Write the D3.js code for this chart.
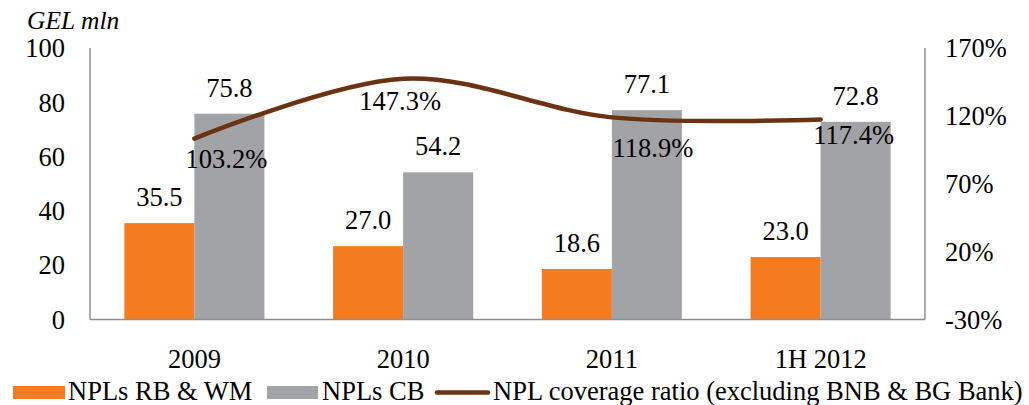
<!DOCTYPE html>
<html><head><meta charset="utf-8">
<script src="https://cdn.jsdelivr.net/npm/d3@7"></script>
<style>body{margin:0;background:#fff}svg{display:block}text{font-family:"Liberation Serif","Times New Roman",serif;fill:#000}</style>
</head><body><svg id="c" width="1029" height="405"></svg>
<script>
const categories = ["2009", "2010", "2011", "1H 2012"];
const nplsRbWm = [35.5, 27.0, 18.6, 23.0];
const nplsCb = [75.8, 54.2, 77.1, 72.8];
const coverage = [103.2, 147.3, 118.9, 117.4];
const leftTicks = [0, 20, 40, 60, 80, 100];
const rightTicks = [-30, 20, 70, 120, 170];
const seriesNames = ["NPLs RB & WM", "NPLs CB", "NPL coverage ratio (excluding BNB & BG Bank)"];

const svg = d3.select("#c");
const L = 90, R = 925, T = 48, B = 319.5;
const FS = 26.5;
const orange = "#F47B20", gray = "#A2A3A7", brown = "#6B3311", axisCol = "#8E8E8E";

const x0 = d3.scaleBand().domain(categories).range([L, R]).paddingInner(0.329).paddingOuter(0.1645);
const x1 = d3.scaleBand().domain([0, 1]).range([0, x0.bandwidth()]);
const yL = d3.scaleLinear().domain([0, 100]).range([B, T]);
const yR = d3.scaleLinear().domain([-30, 170]).range([B, T]);
const cx = c => x0(c) + x0.bandwidth() / 2;

// bars
const series = [nplsRbWm, nplsCb];
const colors = [orange, gray];
series.forEach((vals, si) => {
  svg.append("g").selectAll("rect").data(vals).join("rect")
    .attr("x", (d, i) => x0(categories[i]) + x1(si))
    .attr("width", x1.bandwidth())
    .attr("y", d => yL(d))
    .attr("height", d => yL(0) - yL(d))
    .attr("fill", colors[si]);
  svg.append("g").selectAll("text").data(vals).join("text")
    .attr("x", (d, i) => x0(categories[i]) + x1(si) + x1.bandwidth() / 2)
    .attr("y", d => yL(d) - 17)
    .attr("text-anchor", "middle")
    .attr("font-size", FS)
    .text(d => d.toFixed(1));
});

// axes lines
const ax = svg.append("g").attr("stroke", axisCol).attr("stroke-width", 1.5).attr("fill", "none");
ax.append("line").attr("x1", L).attr("x2", L).attr("y1", yL(100)).attr("y2", B);
ax.append("line").attr("x1", R).attr("x2", R).attr("y1", yR(170)).attr("y2", B);
ax.append("line").attr("x1", L).attr("x2", R).attr("y1", B).attr("y2", B);

// left axis
const gl = svg.append("g").attr("transform", `translate(${L},0)`)
  .call(d3.axisLeft(yL).tickValues(leftTicks).tickSize(0).tickPadding(25).tickFormat(d3.format("d")));
gl.select(".domain").remove();
gl.selectAll("text").attr("font-size", FS).attr("dy", "0.33em").attr("fill", "#000");

// right axis
const gr = svg.append("g").attr("transform", `translate(${R},0)`)
  .call(d3.axisRight(yR).tickValues(rightTicks).tickSize(0).tickPadding(20).tickFormat(d => d + "%"));
gr.select(".domain").remove();
gr.selectAll("text").attr("font-size", FS).attr("dy", "0.33em").attr("fill", "#000");

// category axis
const gb = svg.append("g").attr("transform", `translate(0,${B})`)
  .call(d3.axisBottom(x0).tickSize(0).tickPadding(0));
gb.select(".domain").remove();
gb.selectAll("text").attr("font-size", FS).attr("fill", "#000").attr("dy", null).attr("y", 48.5);
svg.selectAll("g").attr("font-family", null);

// unit label
svg.append("text").attr("x", 27).attr("y", 29).attr("font-size", 25.5).attr("font-style", "italic").text("GEL mln");

// line
const line = d3.line().x((d, i) => cx(categories[i])).y(d => yR(d)).curve(d3.curveCardinal.tension(0));
svg.append("path").datum(coverage).attr("d", line).attr("fill", "none")
  .attr("stroke", brown).attr("stroke-width", 4.5).attr("stroke-linecap", "round");
const lblOff = [[32, 29], [-3, 31], [41, 40], [33, 25]];
svg.append("g").selectAll("text").data(coverage).join("text")
  .attr("x", (d, i) => cx(categories[i]) + lblOff[i][0])
  .attr("y", (d, i) => yR(d) + lblOff[i][1])
  .attr("text-anchor", "middle").attr("font-size", FS)
  .text(d => d.toFixed(1) + "%");

// legend
const lg = svg.append("g");
lg.append("rect").attr("x", 13).attr("y", 386).attr("width", 52).attr("height", 13).attr("fill", orange);
lg.append("text").attr("x", 68).attr("y", 400).attr("font-size", FS).text(seriesNames[0]);
lg.append("rect").attr("x", 267).attr("y", 386).attr("width", 51).attr("height", 13).attr("fill", gray);
lg.append("text").attr("x", 322).attr("y", 400).attr("font-size", FS).text(seriesNames[1]);
lg.append("line").attr("x1", 437).attr("x2", 488).attr("y1", 392.5).attr("y2", 392.5)
  .attr("stroke", brown).attr("stroke-width", 4.5).attr("stroke-linecap", "round");
lg.append("text").attr("x", 493).attr("y", 400).attr("font-size", FS).text(seriesNames[2]);
</script></body></html>
